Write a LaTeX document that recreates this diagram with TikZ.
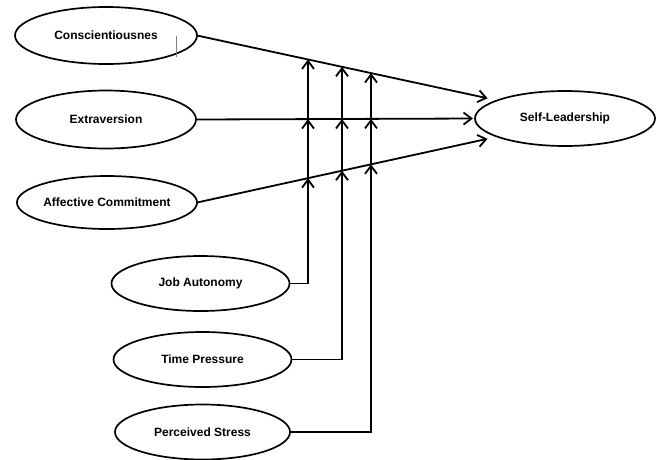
\documentclass[tikz,border=0pt]{standalone}
\usepackage{fontspec}
\setmainfont{Liberation Sans}
\usetikzlibrary{arrows.meta,positioning,shapes.geometric}

\begin{document}
\begin{tikzpicture}[x=1pt,y=-1pt,
  construct/.style={draw,ellipse,line width=1.7pt,minimum width=178pt,minimum height=55pt,
    inner sep=0pt,outer sep=0pt,font=\fontsize{12}{14}\selectfont\bfseries},
  link/.style={line width=1.8pt},
  >={Straight Barb[length=8pt,width=12pt]}]
  \useasboundingbox (0,0) rectangle (661,459);
  \node[construct,minimum width=182pt,minimum height=57pt] (con) at (106,35.5) {Conscientiousnes};
  \node[construct,minimum width=180pt,minimum height=58pt] (ext) at (106,119.5) {Extraversion};
  \node[construct,minimum width=180pt,minimum height=53pt] (aff) at (107,202.5) {Affective Commitment};
  \node[construct] (ja) at (200.5,283.5) {Job Autonomy};
  \node[construct] (tp) at (202.5,359.5) {Time Pressure};
  \node[construct,minimum width=175pt] (ps) at (202.5,432) {Perceived Stress};
  \node[construct,minimum width=180pt] (sl) at (565,118.5) {Self-Leadership};
  \draw[gray,line width=0.6pt] (176,36) -- (176,57);
  \draw[link,->,shorten >=10pt] (con.east) -- (sl.165);
  \draw[link,->,shorten >=2pt] (ext.east) -- (sl.west);
  \draw[link,->,shorten >=10pt] (aff.east) -- (sl.195);
  \foreach \m/\x in {ja/308,tp/342,ps/371} {
    \coordinate (lo) at (intersection of aff.east--sl.195 and \x,0--\x,1);
    \coordinate (mid) at (intersection of ext.east--sl.west and \x,0--\x,1);
    \coordinate (hi) at (intersection of con.east--sl.165 and \x,0--\x,1);
    \draw[link,->] (\m.east) -| (lo);
    \draw[link,->] (lo) -- (mid);
    \draw[link,->] (mid) -- (hi);
  }
\end{tikzpicture}
\end{document}
